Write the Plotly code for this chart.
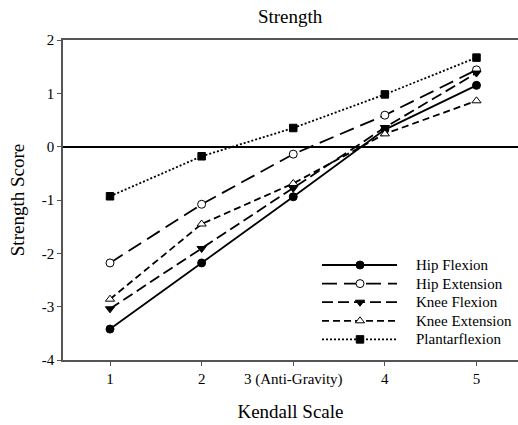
import plotly.graph_objects as go

# Kendall manual muscle test grades and mean strength scores per muscle group
kendall = [1, 2, 3, 4, 5]
tick_labels = ["1", "2", "3 (Anti-Gravity)", "4", "5"]
score_ticks = [-4, -3, -2, -1, 0, 1, 2]

hip_flexion = [-3.42, -2.18, -0.94, 0.32, 1.15]
hip_extension = [-2.18, -1.08, -0.14, 0.59, 1.44]
knee_flexion = [-3.04, -1.91, -0.78, 0.36, 1.38]
knee_extension = [-2.86, -1.45, -0.69, 0.24, 0.86]
plantarflexion = [-0.93, -0.18, 0.35, 0.98, 1.67]

series = [
    ("Hip Flexion", hip_flexion, "solid", "circle", "black"),
    ("Hip Extension", hip_extension, "15px,7px", "circle", "white"),
    ("Knee Flexion", knee_flexion, "11px,5px", "triangle-down", "black"),
    ("Knee Extension", knee_extension, "7px,4px", "triangle-up", "white"),
    ("Plantarflexion", plantarflexion, "2px,2px", "square", "black"),
]

serif = "Liberation Serif, Times New Roman, serif"

fig = go.Figure()
for name, vals, dash, sym, fill in series:
    fig.add_trace(go.Scatter(
        x=kendall, y=vals, name=name, mode="lines+markers", showlegend=False,
        line=dict(color="black", width=1.8, dash=dash),
        marker=dict(symbol=sym, size=8 if sym != "square" else 7.5, color=fill,
                    line=dict(color="black", width=1)),
    ))

# Key drawn on a pixel-scaled overlay axis pair (x: 63..518, y: 40..360 from top)
key_x0, key_x1, key_mid, key_text = 322, 397, 360, 414
key_top, key_step = 265, 18.6
for i, (name, vals, dash, sym, fill) in enumerate(series):
    ky = key_top + i * key_step
    fig.add_trace(go.Scatter(
        x=[key_x0, key_x1], y=[ky, ky], mode="lines", xaxis="x2", yaxis="y2",
        showlegend=False, hoverinfo="skip",
        line=dict(color="black", width=1.8, dash=dash),
    ))
    fig.add_trace(go.Scatter(
        x=[key_mid], y=[ky], mode="markers", xaxis="x2", yaxis="y2",
        showlegend=False, hoverinfo="skip",
        marker=dict(symbol=sym, size=8 if sym != "square" else 7.5, color=fill,
                    line=dict(color="black", width=1)),
    ))
    fig.add_annotation(
        x=key_text, y=ky, xref="x2", yref="y2", text=name, showarrow=False,
        xanchor="left", yanchor="middle",
        font=dict(size=15, family=serif, color="black"),
    )

fig.update_layout(
    width=518, height=425,
    margin=dict(l=63, r=0, t=40, b=65),
    paper_bgcolor="white", plot_bgcolor="white",
    font=dict(family=serif, color="black", size=15),
    title=dict(text="Strength", x=0.56, xanchor="center", y=0.962, yanchor="middle",
               font=dict(size=19, family=serif, color="black")),
    showlegend=False,
    xaxis2=dict(overlaying="x", range=[63, 518], visible=False, fixedrange=True),
    yaxis2=dict(overlaying="y", range=[360, 40], visible=False, fixedrange=True),
)
fig.layout.xaxis.update(
    range=[0.487, 5.453], tickvals=kendall, ticktext=tick_labels,
    showgrid=False, zeroline=False, showline=True, linecolor="#555", linewidth=1.5,
    mirror=True, ticks="outside", ticklen=4, tickcolor="#555",
    tickfont=dict(size=15, family=serif, color="black"),
    title=dict(text="Kendall Scale", font=dict(size=19, family=serif, color="black"),
               standoff=18),
)
fig.layout.yaxis.update(
    range=[-4, 2], tickvals=score_ticks, ticktext=[str(v) for v in score_ticks],
    showgrid=False,
    zeroline=True, zerolinecolor="black", zerolinewidth=1.5,
    showline=True, linecolor="#555", linewidth=1.5,
    ticks="outside", ticklen=4, tickcolor="#555",
    tickfont=dict(size=15, family=serif, color="black"),
    title=dict(text="Strength Score", font=dict(size=19, family=serif, color="black"),
               standoff=12),
)

fig.write_html("out.html")
